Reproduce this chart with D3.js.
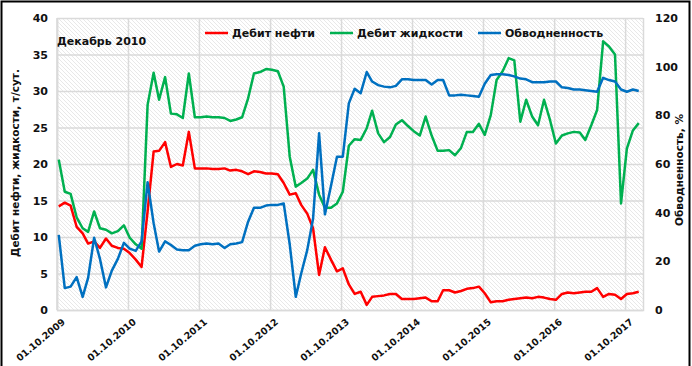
<!DOCTYPE html>
<html>
<head>
<meta charset="utf-8">
<script src="https://cdn.jsdelivr.net/npm/d3@7"></script>
<style>
  body { margin: 0; background: #fff; }
  text { font-family: "DejaVu Sans", Verdana, sans-serif; font-weight: bold; fill: #111; }
</style>
</head>
<body>
<div id="container"></div>
<script>
// monthly points, Oct 2009 .. Dec 2017
let months = d3.timeMonth.range(new Date(2009, 9, 1), new Date(2018, 0, 1))
  .map(function(d){ return d3.timeDay.offset(d, 9); });

// oil rate, t/day
let oil = [
  14.2, 14.7, 14.3, 11.4, 10.5, 9.1, 9.4, 8.5, 9.8, 8.8, 8.5, 8.4, 7.8, 6.9, 5.9,
  13.5, 21.7, 21.8, 23.0, 19.6, 20.0, 19.8, 24.4, 19.4, 19.4, 19.4, 19.3, 19.3, 19.4,
  19.1, 19.2, 19.0, 18.6, 19.0, 18.9, 18.7, 18.7, 18.6, 17.4, 15.8, 16.0, 14.4, 13.2,
  11.2, 4.8, 8.6, 6.9, 5.3, 5.7, 3.5, 2.2, 2.5, 0.7, 1.8, 1.9, 2.0, 2.2, 2.2, 1.5,
  1.5, 1.5, 1.6, 1.7, 1.2, 1.2, 2.7, 2.7, 2.4, 2.6, 2.9, 3.0, 3.2, 2.3, 1.05, 1.2,
  1.2, 1.4, 1.5, 1.6, 1.7, 1.6, 1.8, 1.7, 1.5, 1.4, 2.2, 2.4, 2.3, 2.4, 2.5, 2.5,
  3.0, 1.8, 2.2, 2.1, 1.5, 2.2, 2.3, 2.5
];

// liquid rate, t/day
let liquid = [
  20.6, 16.2, 15.9, 12.7, 11.2, 10.7, 13.5, 11.2, 11.0, 10.5, 10.8, 11.6, 9.9, 9.0, 8.4,
  28.1, 32.5, 28.8, 31.9, 26.9, 26.8, 26.3, 32.4, 26.4, 26.4, 26.5, 26.4, 26.4, 26.3,
  25.9, 26.1, 26.4, 29.0, 32.4, 32.6, 33.0, 32.9, 32.7, 30.6, 21.0, 16.9, 17.4, 18.0,
  19.2, 15.8, 14.0, 14.0, 14.6, 16.2, 22.5, 23.4, 23.3, 24.9, 27.3, 24.2, 23.0, 23.7,
  25.4, 26.0, 25.2, 24.5, 23.9, 26.5, 23.9, 21.8, 21.8, 21.9, 21.2, 22.2, 24.4, 24.4,
  25.5, 24.0, 26.7, 31.5, 32.7, 34.5, 34.2, 25.8, 28.8, 26.5, 25.3, 28.8, 26.0, 22.8,
  23.9, 24.2, 24.4, 24.3, 23.3, 25.3, 27.4, 36.8, 36.1, 35.0, 14.6, 22.1, 24.6, 25.6
];

// water cut, %
let watercut = [
  30.9, 9.0, 9.6, 13.5, 5.4, 13.2, 29.7, 21.0, 9.3, 16.2, 21.0, 27.6, 25.2, 24.3, 28.2,
  52.5, 35.7, 24.0, 28.2, 26.7, 24.9, 24.6, 24.6, 26.4, 27.0, 27.3, 27.0, 27.3, 25.5,
  27.0, 27.3, 27.9, 36.3, 42.0, 42.0, 42.9, 43.2, 43.2, 43.8, 27.0, 5.4, 15.0, 24.6,
  37.5, 72.6, 39.3, 51.0, 63.0, 63.0, 84.9, 90.9, 89.1, 97.8, 93.9, 92.4, 91.8, 91.5,
  92.1, 94.8, 94.8, 94.5, 94.5, 94.5, 92.7, 94.5, 94.5, 88.2, 88.2, 88.5, 88.2, 87.9,
  87.6, 93.0, 96.6, 96.9, 96.9, 96.6, 96.0, 95.1, 94.8, 93.6, 93.6, 93.6, 93.9, 93.9,
  91.5, 91.2, 90.6, 90.6, 90.3, 90.0, 89.7, 95.4, 94.5, 93.9, 90.6, 89.7, 90.6, 90.0
];

let leftTicks = [0, 5, 10, 15, 20, 25, 30, 35, 40];
let rightTicks = [0, 20, 40, 60, 80, 100, 120];
let yearTicks = d3.range(2009, 2018).map(function(y){ return new Date(y, 9, 1); });

let seriesNames = ["Дебит нефти", "Дебит жидкости", "Обводненность"];
let seriesColors = ["#ff0000", "#00b050", "#0070c0"];

let w = 692;
let h = 366;
let plotL = 57, plotR = 643, plotT = 18, plotB = 310;

let viz = d3.select("#container")
  .append("svg")
    .attr("width", w)
    .attr("height", h)
;

// hatch for the plot area
let defs = viz.append("defs");
defs.append("pattern")
    .attr("id", "hatch")
    .attr("patternUnits", "userSpaceOnUse")
    .attr("width", 4)
    .attr("height", 4)
  .append("path")
    .attr("d", "M-1,-1 L5,5 M-1,3 L1,5 M3,-1 L5,1")
    .attr("stroke", "#e2e2e2")
    .attr("stroke-width", 0.8)
;

viz.append("rect")
  .attr("x", plotL).attr("y", plotT)
  .attr("width", plotR - plotL).attr("height", plotB - plotT)
  .attr("fill", "url(#hatch)")
;

let x = d3.scaleTime()
  .domain([new Date(2009, 9, 1), new Date(2018, 0, 1)])
  .range([plotL, plotR]);
let yL = d3.scaleLinear().domain([0, 40]).range([plotB, plotT]);
let yR = d3.scaleLinear().domain([0, 120]).range([plotB, plotT]);

// left axis + horizontal grid
let gL = viz.append("g")
  .attr("transform", "translate(" + plotL + ",0)")
  .call(d3.axisLeft(yL).tickValues(leftTicks).tickSize(-(plotR - plotL)).tickPadding(9));
gL.select(".domain").remove();
gL.selectAll("line").attr("stroke", "#dadada").attr("stroke-width", 1.5);
gL.selectAll("text").style("font-size", "11px");

// x axis + vertical grid
let gX = viz.append("g")
  .attr("transform", "translate(0," + plotB + ")")
  .call(d3.axisBottom(x).tickValues(yearTicks).tickSize(-(plotB - plotT)).tickFormat(d3.timeFormat("%d.%m.%Y")));
gX.select(".domain").attr("stroke", "#dadada").attr("stroke-width", 1.5);
gX.selectAll("line").attr("stroke", "#dadada").attr("stroke-width", 1.5);
gX.selectAll("text")
  .style("font-size", "9.5px")
  .attr("text-anchor", "end")
  .attr("transform", "translate(4,8) rotate(-40)")
  .attr("dy", "0.7em")
  .attr("y", 0)
;

// right axis
let gR = viz.append("g")
  .attr("transform", "translate(" + plotR + ",0)")
  .call(d3.axisRight(yR).tickValues(rightTicks).tickSize(0).tickPadding(12));
gR.select(".domain").remove();
gR.selectAll("text").style("font-size", "11px");

// left plot border
viz.append("line")
  .attr("x1", plotL).attr("x2", plotL).attr("y1", plotT).attr("y2", plotB)
  .attr("stroke", "#dadada").attr("stroke-width", 1.5);

let lineLeft = d3.line()
  .x(function(d, i){ return x(months[i]); })
  .y(function(d){ return yL(d); });
let lineRight = d3.line()
  .x(function(d, i){ return x(months[i]); })
  .y(function(d){ return yR(d); });

viz.append("path").datum(oil)
  .attr("d", lineLeft).attr("fill", "none")
  .attr("stroke", seriesColors[0]).attr("stroke-width", 2.5).attr("stroke-linejoin", "round");
viz.append("path").datum(liquid)
  .attr("d", lineLeft).attr("fill", "none")
  .attr("stroke", seriesColors[1]).attr("stroke-width", 2.5).attr("stroke-linejoin", "round");
viz.append("path").datum(watercut)
  .attr("d", lineRight).attr("fill", "none")
  .attr("stroke", seriesColors[2]).attr("stroke-width", 2.5).attr("stroke-linejoin", "round");

// legend
let legendX = [205, 330, 478];
let legend = viz.selectAll(".legend").data(seriesNames).enter()
  .append("g").attr("class", "legend")
  .attr("transform", function(d, i){ return "translate(" + legendX[i] + ",33)"; });
legend.append("line")
  .attr("x1", 0).attr("x2", 23)
  .attr("stroke", function(d, i){ return seriesColors[i]; })
  .attr("stroke-width", 2.5);
legend.append("text")
  .attr("x", 27).attr("y", 4)
  .style("font-size", "11px")
  .text(function(d){ return d; });

// note
viz.append("text")
  .attr("x", 57).attr("y", 45)
  .style("font-size", "11px")
  .text("Декабрь 2010");

// axis titles
viz.append("text")
  .attr("transform", "translate(19,163) rotate(-90)")
  .attr("text-anchor", "middle")
  .style("font-size", "10.5px")
  .text("Дебит нефти, жидкости, т/сут.");
viz.append("text")
  .attr("transform", "translate(683,170) rotate(-90)")
  .attr("text-anchor", "middle")
  .style("font-size", "10.5px")
  .text("Обводненность, %");

// outer frame
viz.append("rect")
  .attr("x", 1.5).attr("y", 1.5)
  .attr("width", 688).attr("height", 380)
  .attr("fill", "none").attr("stroke", "#000").attr("stroke-width", 2);
</script>
</body>
</html>
